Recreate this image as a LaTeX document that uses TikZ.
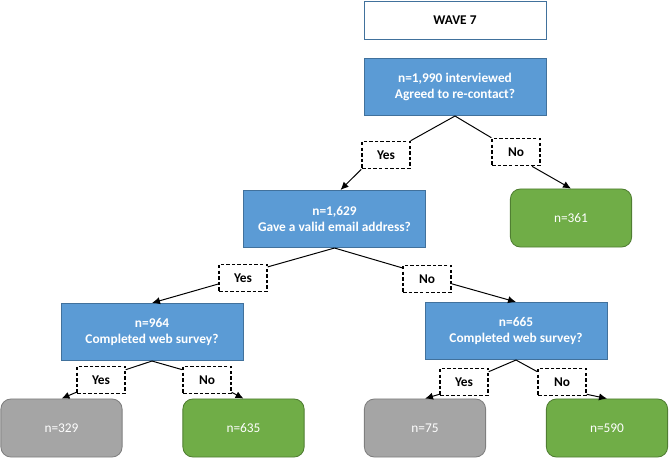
\documentclass[tikz,border=0pt]{standalone}
\usepackage{fontspec}
\setmainfont{Carlito}
\usetikzlibrary{arrows.meta}
\definecolor{qblue}{HTML}{5B9BD5}
\definecolor{qedge}{HTML}{41719C}
\definecolor{lgreen}{HTML}{70AD47}
\definecolor{gedge}{HTML}{507E32}
\definecolor{lgrey}{HTML}{A5A5A5}
\definecolor{rgedge}{HTML}{7F7F7F}

\begin{document}
\begin{tikzpicture}[x=0.025cm,y=-0.025cm,
  wave/.style={draw=qedge,fill=white,line width=0.6pt,minimum width=4.55cm,minimum height=0.95cm,font=\bfseries\fontsize{9.5}{11.5}\selectfont},
  question/.style={draw=qedge,fill=qblue,text=white,line width=0.6pt,minimum width=4.55cm,minimum height=1.43cm,align=center,font=\bfseries\fontsize{9.5}{11.5}\selectfont},
  leaf/.style={rounded corners=0.25cm,line width=0.6pt,minimum width=3.03cm,minimum height=1.45cm,text=white,font=\fontsize{9.5}{11.5}\selectfont},
  stop/.style={leaf,draw=gedge,fill=lgreen},
  drop/.style={leaf,draw=rgedge,fill=lgrey},
  answer/.style={draw,dash pattern=on 2.5pt off 1.5pt,line width=1pt,fill=white,minimum width=1.2cm,minimum height=0.68cm,font=\bfseries\fontsize{9.5}{11.5}\selectfont},
  link/.style={line width=0.7pt},
  arrow/.style={line width=0.7pt,-{Latex[length=2mm,width=1.8mm]}}]
\useasboundingbox (0,0) rectangle (669,458);

\node[wave] (w7) at (455,20) {WAVE 7};
\node[question] (q1) at (455,87) {n=1,990 interviewed\\Agreed to re-contact?};
\node[answer] (y1) at (386,155) {Yes};
\node[answer] (n1) at (516,152) {No};
\node[stop] (s1) at (571,218) {n=361};
\node[question] (q2) at (334.5,219) {n=1,629\\Gave a valid email address?};
\node[answer] (y2) at (243,278) {Yes};
\node[answer] (n2) at (427,279) {No};
\node[question] (q3) at (152,332) {n=964\\Completed web survey?};
\node[question] (q4) at (516,331) {n=665\\Completed web survey?};
\node[answer] (y3) at (101,380) {Yes};
\node[answer] (n3) at (207,380) {No};
\node[answer] (y4) at (464,382) {Yes};
\node[answer] (n4) at (562,382) {No};
\node[drop] (d1) at (61.5,428) {n=329};
\node[stop] (s2) at (243.5,428) {n=635};
\node[drop] (d2) at (425,428) {n=75};
\node[stop] (s3) at (607,428) {n=590};

\draw[link] (q1.south) -- (y1.north east);
\draw[link] (q1.south) -- (n1.north west);
\draw[arrow] (y1.south west) -- ([xshift=0.15cm]q2.north);
\draw[arrow] ([xshift=0.4cm]n1.south) -- (s1.north);
\draw[link] (q2.south) -- ([yshift=-0.08cm]y2.north east);
\draw[link] (q2.south) -- ([yshift=-0.08cm]n2.north west);
\draw[arrow] ([yshift=-0.15cm]y2.west) -- (q3.north);
\draw[arrow] ([yshift=-0.12cm]n2.east) -- (q4.north);
\draw[link] (q3.south) -- ([yshift=-0.1cm]y3.north east);
\draw[link] (q3.south) -- ([yshift=-0.1cm]n3.north west);
\draw[arrow] ([yshift=0.05cm]y3.south west) -- (d1.north);
\draw[arrow] ([yshift=0.05cm]n3.south east) -- (s2.north);
\draw[link] (q4.south) -- ([yshift=-0.1cm]y4.north east);
\draw[link] (q4.south) -- ([yshift=-0.1cm]n4.north west);
\draw[arrow] ([yshift=0.05cm]y4.south west) -- (d2.north);
\draw[arrow] ([yshift=0.05cm]n4.south east) -- (s3.north);
\end{tikzpicture}
\end{document}
